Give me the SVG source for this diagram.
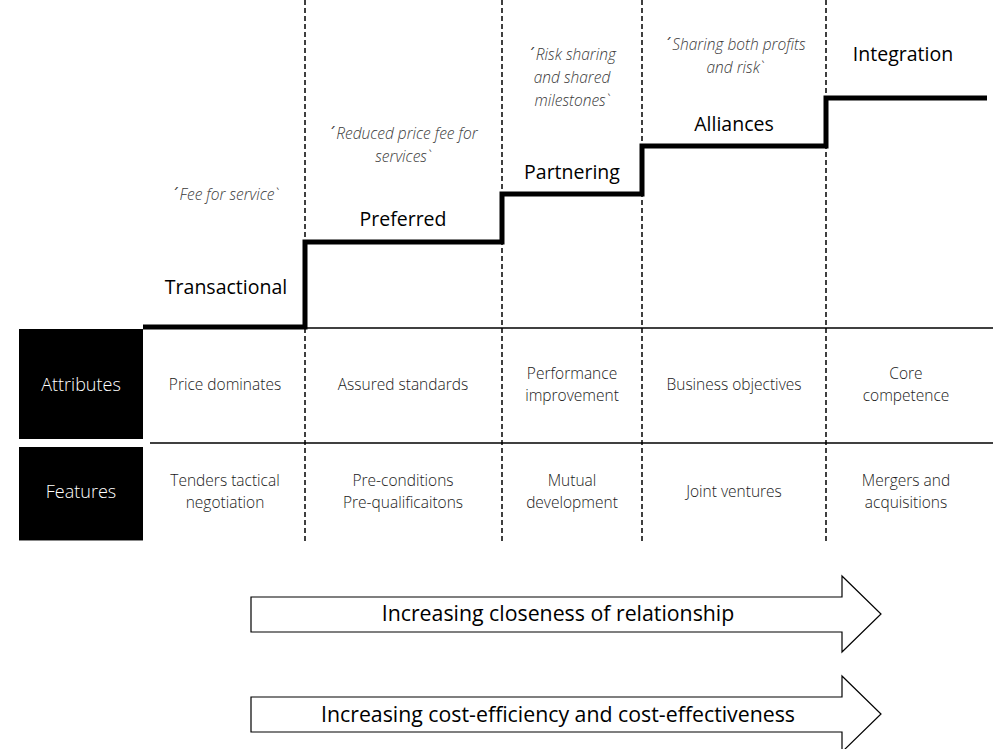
<svg xmlns="http://www.w3.org/2000/svg" width="993" height="749" viewBox="0 0 993 749">
<style>
.stage{font-family:"Open Sans","Liberation Sans",sans-serif;font-size:19.5px;fill:#000;text-anchor:middle}
.quote{font-family:"Open Sans","Liberation Sans",sans-serif;font-size:15.5px;font-style:italic;font-weight:300;fill:#3a3a3a;text-anchor:middle}
.ac{font-family:"DejaVu Sans",sans-serif;font-style:normal;font-weight:400}
.cell{font-family:"Open Sans","Liberation Sans",sans-serif;font-size:15.5px;font-weight:300;fill:#1a1a1a;text-anchor:middle}
.head{font-family:"Open Sans","Liberation Sans",sans-serif;font-size:18px;font-weight:300;fill:#fff;text-anchor:middle}
.arrowtxt{font-family:"Open Sans","Liberation Sans",sans-serif;font-size:21.3px;fill:#000;text-anchor:middle}
.dash{stroke:#000;stroke-width:1.5;stroke-dasharray:5 3;fill:none}
.thin{stroke:#000;stroke-width:1.5;fill:none}
.step{stroke:#000;stroke-width:5;fill:none;stroke-linejoin:miter}
.arrow{fill:#fff;stroke:#000;stroke-width:1.2}
</style>
<rect width="993" height="749" fill="#fff"/>
<g id="connectors">
<line class="dash" x1="305" y1="0" x2="305" y2="541"/>
<line class="dash" x1="502" y1="0" x2="502" y2="541"/>
<line class="dash" x1="642" y1="0" x2="642" y2="541"/>
<line class="dash" x1="826" y1="0" x2="826" y2="541"/>
<line class="thin" x1="305" y1="328" x2="993" y2="328"/>
<line class="thin" x1="150" y1="443" x2="993" y2="443"/>
<line x1="19" y1="540.5" x2="143" y2="540.5" stroke="#888" stroke-width="1"/>
<polyline class="step" points="143,327 305,327 305,242 502,242 502,194 642,194 642,146 826,146 826,98 987,98"/>
</g>
<g id="transactional">
<text class="quote" x="225" y="200"><tspan class="ac">´</tspan>Fee for service`</text>
<text class="stage" x="226" y="294">Transactional</text>
</g>
<g id="preferred">
<text class="quote" x="403" y="139"><tspan class="ac">´</tspan>Reduced price fee for</text>
<text class="quote" x="403" y="162">services`</text>
<text class="stage" x="403" y="226">Preferred</text>
</g>
<g id="partnering">
<text class="quote" x="572" y="60"><tspan class="ac">´</tspan>Risk sharing</text>
<text class="quote" x="572" y="83">and shared</text>
<text class="quote" x="572" y="106">milestones`</text>
<text class="stage" x="572" y="179">Partnering</text>
</g>
<g id="alliances">
<text class="quote" x="735" y="50"><tspan class="ac">´</tspan>Sharing both profits</text>
<text class="quote" x="735" y="73">and risk`</text>
<text class="stage" x="734" y="131">Alliances</text>
</g>
<g id="integration">
<text class="stage" x="903" y="61">Integration</text>
</g>
<g id="attributes">
<rect x="19" y="329" width="124" height="110" fill="#000"/>
<text class="head" x="81" y="391">Attributes</text>
<text class="cell" x="225" y="390">Price dominates</text>
<text class="cell" x="403" y="390">Assured standards</text>
<text class="cell" x="572" y="379">Performance</text>
<text class="cell" x="572" y="401">improvement</text>
<text class="cell" x="734" y="390">Business objectives</text>
<text class="cell" x="906" y="379">Core</text>
<text class="cell" x="906" y="401">competence</text>
</g>
<g id="features">
<rect x="19" y="447" width="124" height="93" fill="#000"/>
<text class="head" x="81" y="498">Features</text>
<text class="cell" x="225" y="486">Tenders tactical</text>
<text class="cell" x="225" y="508">negotiation</text>
<text class="cell" x="403" y="486">Pre-conditions</text>
<text class="cell" x="403" y="508">Pre-qualificaitons</text>
<text class="cell" x="572" y="486">Mutual</text>
<text class="cell" x="572" y="508">development</text>
<text class="cell" x="734" y="497">Joint ventures</text>
<text class="cell" x="906" y="486">Mergers and</text>
<text class="cell" x="906" y="508">acquisitions</text>
</g>
<g id="arrow1">
<polygon class="arrow" points="251,597 842,597 842,576 881,614 842,652 842,632 251,632"/>
<text class="arrowtxt" x="558" y="621">Increasing closeness of relationship</text>
</g>
<g id="arrow2">
<polygon class="arrow" points="251,697 842,697 842,676 881,714 842,752 842,732 251,732"/>
<text class="arrowtxt" x="558" y="722">Increasing cost-efficiency and cost-effectiveness</text>
</g>
</svg>
